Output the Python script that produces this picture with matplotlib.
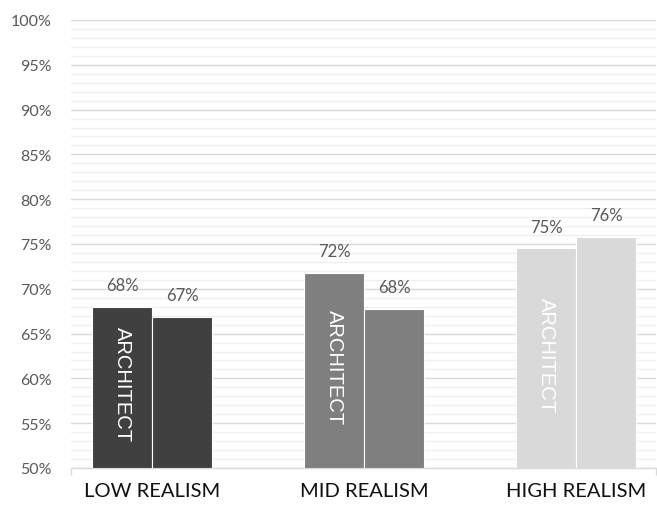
import matplotlib
matplotlib.use("Agg")
import matplotlib.pyplot as plt
import numpy as np

# --- data ---
categories = ["LOW REALISM", "MID REALISM", "HIGH REALISM"]
architect = [68.0, 71.8, 74.5]
other = [66.9, 67.8, 75.8]
architect_labels = ["68%", "72%", "75%"]
other_labels = ["67%", "68%", "76%"]
bar_colors = ["#404040", "#7f7f7f", "#d9d9d9"]

plt.rcParams['font.family'] = ['Lato', 'DejaVu Sans']

fig = plt.figure(figsize=(6.57, 5.10), dpi=100)
ax = fig.add_axes([71 / 657, 41 / 510, 585 / 657, 448 / 510])

x = np.arange(len(categories))
w = 0.283
base = 50

ax.bar(x - w / 2, np.array(architect) - base, width=w, bottom=base,
       color=bar_colors, edgecolor="white", linewidth=0.8, zorder=3)
ax.bar(x + w / 2, np.array(other) - base, width=w, bottom=base,
       color=bar_colors, edgecolor="white", linewidth=0.8, zorder=3)

for i in range(len(categories)):
    ax.text(x[i] - w / 2, architect[i] + 1.5, architect_labels[i], ha="center", va="bottom",
            fontsize=12, color="#595959")
    ax.text(x[i] + w / 2, other[i] + 1.5, other_labels[i], ha="center", va="bottom",
            fontsize=12, color="#595959")
    ax.text(x[i] - w / 2, (base + architect[i]) / 2 + 0.4, "ARCHITECT", rotation=-90,
            ha="center", va="center", fontsize=14.5, color="white", zorder=4,
            family=["Liberation Sans", "DejaVu Sans"])

ax.set_ylim(50, 100)
ax.set_xlim(-0.382, 2.377)

ax.set_yticks(np.arange(50, 101, 5))
ax.set_yticklabels([f"{v}%" for v in range(50, 101, 5)])
ax.set_yticks(np.arange(50, 101, 1), minor=True)
ax.grid(axis="y", which="major", color="#d9d9d9", linewidth=1.0, zorder=0)
ax.grid(axis="y", which="minor", color="#efefef", linewidth=0.9, zorder=0)
ax.tick_params(axis="y", which="both", length=0, labelsize=11.5, labelcolor="#595959", pad=14)

ax.set_xticks(x)
ax.set_xticklabels(categories, fontsize=14.5, color="#111111")
ax.set_xticks([-0.382, 2.377], minor=True)
ax.tick_params(axis="x", which="major", length=0, pad=10)
ax.tick_params(axis="x", which="minor", length=5, color="#d9d9d9", width=1)

for s in ["top", "right", "left"]:
    ax.spines[s].set_visible(False)
ax.spines["bottom"].set_color("#d9d9d9")
ax.spines["bottom"].set_linewidth(1.0)

fig.savefig("out.png", dpi=100)
